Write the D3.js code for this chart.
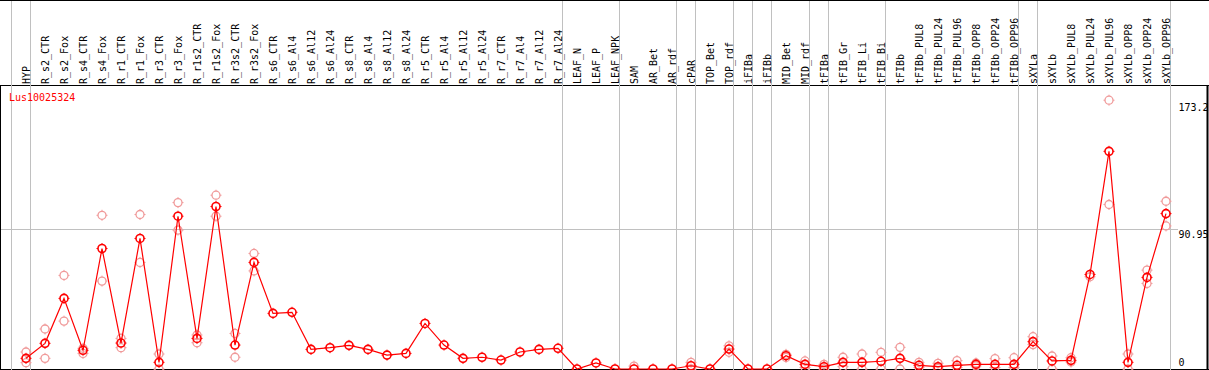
<!DOCTYPE html>
<html>
<head>
<meta charset="utf-8">
<script src="https://cdn.jsdelivr.net/npm/d3@7"></script>
<style>
  body { margin: 0; background: #fff; }
  svg { display: block; }
  text { font-family: "DejaVu Sans Mono", monospace; font-size: 10px; }
</style>
</head>
<body>
<script>
// sample names (columns)
const samples = ["HYP","R_s2_CTR","R_s2_Fox","R_s4_CTR","R_s4_Fox","R_r1_CTR","R_r1_Fox","R_r3_CTR","R_r3_Fox",
  "R_r1s2_CTR","R_r1s2_Fox","R_r3s2_CTR","R_r3s2_Fox","R_s6_CTR","R_s6_Al4","R_s6_Al12","R_s6_Al24",
  "R_s8_CTR","R_s8_Al4","R_s8_Al12","R_s8_Al24","R_r5_CTR","R_r5_Al4","R_r5_Al12","R_r5_Al24",
  "R_r7_CTR","R_r7_Al4","R_r7_Al12","R_r7_Al24","LEAF_N","LEAF_P","LEAF_NPK","SAM","AR_Bet","AR_rdf",
  "cPAR","TOP_Bet","TOP_rdf","iFIBa","iFIBb","MID_Bet","MID_rdf","tFIBa","tFIB_Gr","tFIB_Li","tFIB_Bi",
  "tFIBb","tFIBb_PUL8","tFIBb_PUL24","tFIBb_PUL96","tFIBb_OPP8","tFIBb_OPP24","tFIBb_OPP96",
  "sXYLa","sXYLb","sXYLb_PUL8","sXYLb_PUL24","sXYLb_PUL96","sXYLb_OPP8","sXYLb_OPP24","sXYLb_OPP96"];

// mean expression per sample
const means = [6.9,16.6,45.7,12.1,78.0,16.8,84.5,4.3,98.9,19.8,105.2,15.5,69.0,36.0,36.7,12.7,13.8,
  15.3,12.7,9.0,10.1,29.5,15.5,6.9,7.6,5.8,11.0,12.7,13.4,0,3.9,0,0,0,0,
  2.1,0,12.9,0,0,8.6,3.0,1.5,4.3,4.3,5.0,
  6.9,2.4,1.5,2.4,3.0,3.0,3.0,
  17.7,5.2,5.6,61.2,140.9,4.3,59.3,100.6];

// replicate values (pale circles)
const repHigh = [11.0,25.9,60.6,13.4,99.5,19.8,100.0,9.7,107.7,22.0,112.5,23.0,74.8,36.0,36.7,12.7,13.8,
  15.3,12.7,9.0,10.1,29.5,15.5,6.9,7.6,5.8,11.0,12.7,13.4,0,3.9,0,1.9,0,0,
  4.3,0,15.0,0,0,9.5,5.2,3.0,7.6,9.7,10.8,
  14.0,4.3,3.7,5.4,3.9,6.7,7.3,
  20.9,8.4,7.3,61.2,174.0,9.7,64.0,108.6];
const repLow = [4.1,6.9,31.0,10.1,56.9,13.8,69.0,0,89.9,17.0,98.9,7.6,63.5,36.0,36.7,12.7,13.8,
  15.3,12.7,9.0,10.1,29.5,15.5,6.9,7.6,5.8,11.0,12.7,13.4,0,3.9,0,0,0,0,
  0,0,10.8,0,0,7.5,1.0,0,1.5,0,0,
  0,1.0,0.5,1.0,2.0,1.0,1.0,
  15.8,0,4.5,59.7,106.5,0,55.4,92.6];

// columns after which a group separator is drawn
const groupEnds = [-1,0,28,31,34,35,37,38,39,41,42,45,52,53,60];

// right-hand value labels
const axisValues = [173.2, 90.95, 0];
const midValue = 90.95;
const geneName = "Lus10025324";

const W = 1209, H = 370;
const headerBottom = 85;

const svg = d3.select("body").append("svg")
  .attr("width", W).attr("height", H);

const x = d3.scaleLinear().domain([0, samples.length - 1]).range([26, 1166]);
const y = d3.scaleLinear().domain([0, 181.9]).range([369, 88]);

// borders
svg.append("line").attr("x1", 0).attr("x2", W).attr("y1", 0.5).attr("y2", 0.5)
  .attr("stroke", "#000");
svg.append("line").attr("x1", 0).attr("x2", W).attr("y1", headerBottom + 0.5).attr("y2", headerBottom + 0.5)
  .attr("stroke", "#000");
svg.append("line").attr("x1", 0.5).attr("x2", 0.5).attr("y1", headerBottom).attr("y2", H)
  .attr("stroke", "#000");
svg.append("line").attr("x1", 1207.5).attr("x2", 1207.5).attr("y1", headerBottom).attr("y2", H)
  .attr("stroke", "#000").attr("stroke-width", 2);
svg.append("line").attr("x1", 0).attr("x2", W).attr("y1", 369.5).attr("y2", 369.5)
  .attr("stroke", "#000");

// group separators
svg.selectAll("line.sep")
  .data(groupEnds)
  .enter().append("line")
    .attr("class", "sep")
    .attr("x1", d => Math.round(x(d)) + 4.5)
    .attr("x2", d => Math.round(x(d)) + 4.5)
    .attr("y1", 1).attr("y2", H)
    .attr("stroke", "#c0c0c0");

// horizontal mid line
svg.append("line")
  .attr("x1", 1).attr("x2", 1178)
  .attr("y1", Math.round(y(midValue)) + 0.5).attr("y2", Math.round(y(midValue)) + 0.5)
  .attr("stroke", "#c0c0c0");

// sample labels (rotated)
svg.selectAll("text.sample")
  .data(samples)
  .enter().append("text")
    .attr("class", "sample")
    .attr("transform", (d, i) => "translate(" + (Math.round(x(i)) + 4) + "," + 84 + ") rotate(-90)")
    .attr("fill", "#000")
    .text(d => d);

// gene name
svg.append("text")
  .attr("x", 9).attr("y", 101)
  .attr("fill", "#ff0000")
  .text(geneName);

// value labels on the right
svg.selectAll("text.val")
  .data(axisValues)
  .enter().append("text")
    .attr("class", "val")
    .attr("x", 1178.5)
    .attr("y", d => Math.min(y(d) + 9.5, 366))
    .attr("fill", "#000")
    .text(d => d);

// circle with small tick marks
function marker(g, cx, cy, color, sw) {
  const r = 4;
  g.append("circle").attr("cx", cx).attr("cy", cy).attr("r", r)
    .attr("fill", "none").attr("stroke", color).attr("stroke-width", sw);
  [[0, -1], [0, 1], [-1, 0], [1, 0]].forEach(([dx, dy]) => {
    g.append("line")
      .attr("x1", cx + dx * r).attr("y1", cy + dy * r)
      .attr("x2", cx + dx * (r + 1.5)).attr("y2", cy + dy * (r + 1.5))
      .attr("stroke", color).attr("stroke-width", 1);
  });
}

// replicates
const reps = svg.append("g");
means.forEach((m, i) => {
  [repHigh[i], repLow[i]].forEach(v => {
    if (Math.abs(v - m) > 0.01) marker(reps, x(i), y(v), "#f09a9a", 1.3);
  });
});

// mean line
svg.append("path")
  .datum(means)
  .attr("d", d3.line().x((d, i) => x(i)).y(d => y(d)))
  .attr("fill", "none")
  .attr("stroke", "#ff0000")
  .attr("stroke-width", 1.2);

// mean markers
const mk = svg.append("g");
means.forEach((m, i) => marker(mk, x(i), y(m), "#ff0000", 1.6));
</script>
</body>
</html>
